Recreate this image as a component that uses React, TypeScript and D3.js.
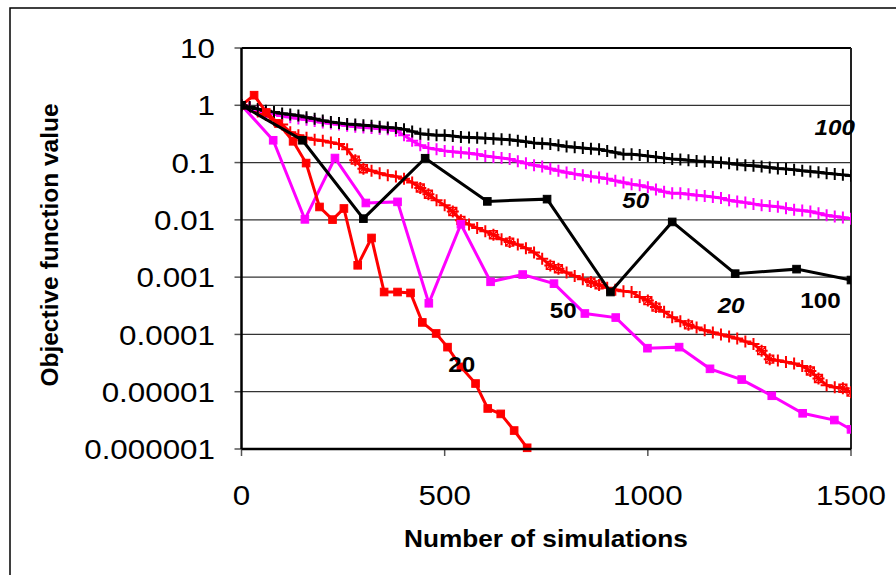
import React from "react";
import * as d3 from "d3";

// ---------- data ----------
const stepSims: number[] = [
  0, 20, 40, 60, 80, 100, 120, 140, 160, 180, 200, 220, 240, 260, 280, 300, 320, 340, 360, 380,
  400, 420, 440, 460, 480, 500, 520, 540, 560, 580, 600, 620, 640, 660, 680, 700, 720, 740, 760, 780,
  800, 820, 840, 860, 880, 900, 920, 940, 960, 980, 1000, 1020, 1040, 1060, 1080, 1100, 1120, 1140, 1160, 1180,
  1200, 1220, 1240, 1260, 1280, 1300, 1320, 1340, 1360, 1380, 1400, 1420, 1440, 1460, 1480, 1500,
];

// population 100, smooth run (black, "+")
const black100Plus: number[] = [
  1.0, 0.93, 0.86, 0.8, 0.76, 0.72, 0.69, 0.66, 0.62, 0.58, 0.54, 0.51, 0.49, 0.47, 0.46, 0.45, 0.44, 0.42, 0.41, 0.4,
  0.38, 0.35, 0.32, 0.31, 0.3, 0.3, 0.29, 0.28, 0.275, 0.27, 0.265, 0.26, 0.255, 0.25, 0.24, 0.23, 0.22, 0.215, 0.21, 0.2,
  0.19, 0.185, 0.18, 0.175, 0.17, 0.16, 0.15, 0.14, 0.14, 0.135, 0.13, 0.125, 0.12, 0.115, 0.113, 0.11, 0.107, 0.104, 0.102, 0.1,
  0.097, 0.093, 0.09, 0.088, 0.085, 0.082, 0.079, 0.077, 0.075, 0.072, 0.07, 0.068, 0.065, 0.063, 0.061, 0.059,
];

// population 50, smooth run (magenta, "+")
const magenta50Plus: number[] = [
  1.0, 0.92, 0.83, 0.76, 0.7, 0.65, 0.62, 0.59, 0.56, 0.53, 0.5, 0.48, 0.46, 0.44, 0.42, 0.41, 0.4, 0.39, 0.38, 0.36,
  0.3, 0.24, 0.2, 0.18, 0.17, 0.16, 0.155, 0.15, 0.145, 0.14, 0.13, 0.125, 0.12, 0.115, 0.105, 0.097, 0.09, 0.085, 0.078, 0.072,
  0.067, 0.063, 0.06, 0.057, 0.055, 0.052, 0.048, 0.045, 0.042, 0.04, 0.037, 0.034, 0.031, 0.029, 0.029, 0.028, 0.027, 0.026, 0.025, 0.024,
  0.022, 0.021, 0.02, 0.019, 0.018, 0.0175, 0.017, 0.016, 0.015, 0.0145, 0.014, 0.013, 0.012, 0.0115, 0.011, 0.0105,
];

// population 20, smooth run (red, "+")
const red20Plus: number[] = [
  1.0, 0.9, 0.78, 0.68, 0.55, 0.46, 0.34, 0.3, 0.27, 0.25, 0.24, 0.225, 0.21, 0.17, 0.11, 0.078, 0.072, 0.065, 0.06, 0.057,
  0.052, 0.045, 0.036, 0.028, 0.022, 0.018, 0.014, 0.0098, 0.0083, 0.0072, 0.0063, 0.0055, 0.0046, 0.0041, 0.0037, 0.0032, 0.0027, 0.0021, 0.0016, 0.0014,
  0.0012, 0.00105, 0.00092, 0.00082, 0.00073, 0.00065, 0.0006, 0.00057, 0.00055, 0.00045, 0.00039, 0.0003, 0.00025, 0.0002, 0.00017, 0.000147, 0.000132, 0.000118, 0.000108, 0.0001,
  0.000092, 0.000085, 0.000075, 0.000068, 0.000052, 0.000037, 0.000035, 0.000033, 0.000031, 0.000028, 0.000023, 0.000017, 0.000013, 0.000012, 0.0000115, 0.0000098,
];
// sims at which the red smooth run shows boxed-x markers
const red20BoxSims: number[] = [280, 300, 440, 460, 520, 540, 620, 660, 760, 780, 860, 880, 1000, 1020, 1100, 1280, 1300, 1400, 1420, 1480, 1500];

// population 100, jumpy run (black squares)
const black100SqX: number[] = [0, 150, 300, 452, 605, 752, 908, 1060, 1215, 1366, 1500];
const black100SqY: number[] = [1, 0.245, 0.0105, 0.119, 0.021, 0.023, 0.00055, 0.0092, 0.00115, 0.00138, 0.00089];

// population 50, jumpy run (magenta squares)
const magenta50SqX: number[] = [0, 78, 156, 230, 306, 384, 461, 540, 613, 692, 769, 845, 921, 999, 1077, 1153, 1231, 1305, 1381, 1459, 1500];
const magenta50SqY: number[] = [
  1, 0.245, 0.0102, 0.12, 0.0197, 0.0206, 0.00035, 0.0084, 0.00083, 0.00111, 0.00077, 0.000232, 0.000197, 0.0000575,
  0.00006, 0.0000251, 0.0000163, 0.0000085, 0.0000042, 0.0000032, 0.0000022,
];

// population 20, jumpy run (red squares)
const red20SqX: number[] = [0, 31, 61, 91, 127, 159, 192, 224, 252, 286, 320, 351, 384, 416, 445, 479, 507, 540, 576, 606, 638, 671, 703];
const red20SqY: number[] = [
  1, 1.5, 0.75, 0.48, 0.235, 0.098, 0.0168, 0.0101, 0.0158, 0.00161, 0.00483, 0.00055, 0.00055, 0.00053, 0.000162,
  0.000104, 0.00006, 0.0000271, 0.0000139, 0.0000051, 0.0000041, 0.0000021, 0.00000105,
];

const yTickValues: number[] = [10, 1, 0.1, 0.01, 0.001, 0.0001, 0.00001, 0.000001];
const yTickLabels: string[] = ["10", "1", "0.1", "0.01", "0.001", "0.0001", "0.00001", "0.000001"];
const xTickValues: number[] = [0, 500, 1000, 1500];

const seriesLabels = [
  { text: "100", italic: true, x: 1460, y: 0.42 },
  { text: "50", italic: true, x: 970, y: 0.022 },
  { text: "20", italic: true, x: 1205, y: 0.00033 },
  { text: "100", italic: false, x: 1425, y: 0.00039 },
  { text: "50", italic: false, x: 792, y: 0.00027 },
  { text: "20", italic: false, x: 542, y: 0.0000305 },
];

const FONT = "'Liberation Sans', Arial, Helvetica, sans-serif";
const BLACK = "#000000";
const MAGENTA = "#ff00ff";
const RED = "#ff0000";

export default function App() {
  const W = 896;
  const H = 575;
  const left = 241.5;
  const right = 851;
  const top = 48;
  const bottom = 449;

  const x = d3.scaleLinear().domain([0, 1500]).range([left, right]);
  const y = d3.scaleLog().domain([0.000001, 10]).range([bottom, top]);

  const line = d3
    .line<[number, number]>()
    .x((d) => x(d[0]))
    .y((d) => y(d[1]));

  const plusSeries = [
    { vals: red20Plus, color: RED },
    { vals: magenta50Plus, color: MAGENTA },
    { vals: black100Plus, color: BLACK },
  ];
  const sqSeries = [
    { xs: magenta50SqX, ys: magenta50SqY, color: MAGENTA },
    { xs: red20SqX, ys: red20SqY, color: RED },
    { xs: black100SqX, ys: black100SqY, color: BLACK },
  ];

  const pm = 6; // plus half-size
  const sq = 3.8; // square half-size
  const SX = 1.12; // horizontal stretch of the text

  return (
    <svg width={W} height={H} style={{ display: "block", position: "absolute", left: 0, top: 0 }}>
      <defs>
        <clipPath id="plotclip">
          <rect x={left} y={top - 12} width={right - left} height={bottom - top + 24} />
        </clipPath>
      </defs>
      <rect x={0} y={0} width={W} height={H} fill="#fff" />
      {/* outer frame */}
      <rect x={10} y={8} width={W + 20} height={H + 20} fill="none" stroke="#000" strokeWidth={1.5} />

      {/* gridlines */}
      {yTickValues
        .filter((v) => v < 10 && v > 0.000001)
        .map((v) => (
          <line key={"g" + v} x1={left} x2={right} y1={y(v)} y2={y(v)} stroke="#333" strokeWidth={1.3} />
        ))}
      {/* plot border top & right */}
      <line x1={left} x2={right} y1={top} y2={top} stroke="#000" strokeWidth={2} />
      <line x1={right} x2={right} y1={top} y2={bottom} stroke="#222" strokeWidth={2} />

      {/* y ticks and labels */}
      {yTickValues.map((v, i) => (
        <g key={"yt" + v}>
          <line x1={left - 7} x2={left} y1={y(v)} y2={y(v)} stroke="#555" strokeWidth={1.5} />
          <text
            transform={`translate(215,${y(v)}) scale(${SX},1)`}
            dy="0.36em"
            textAnchor="end"
            fontFamily={FONT}
            fontSize={28}
            fill="#000"
          >
            {yTickLabels[i]}
          </text>
        </g>
      ))}
      {/* x ticks and labels */}
      {xTickValues.map((v) => (
        <g key={"xt" + v}>
          <line x1={x(v)} x2={x(v)} y1={bottom} y2={bottom + 7} stroke="#555" strokeWidth={1.5} />
          <text
            transform={`translate(${x(v)},505) scale(${SX},1)`}
            textAnchor="middle"
            fontFamily={FONT}
            fontSize={28}
            fill="#000"
          >
            {String(v)}
          </text>
        </g>
      ))}

      {/* series */}
      <g clipPath="url(#plotclip)">
        {plusSeries.map((s, si) => {
          const pts: [number, number][] = stepSims.map((t, i) => [t, s.vals[i]]);
          return (
            <g key={"ps" + si}>
              <path d={line(pts) || ""} fill="none" stroke={s.color} strokeWidth={3} strokeLinejoin="round" />
              {pts.map((p, i) => (
                <path
                  key={i}
                  d={`M${x(p[0]) - pm},${y(p[1])}H${x(p[0]) + pm}M${x(p[0])},${y(p[1]) - pm}V${y(p[1]) + pm}`}
                  stroke={s.color}
                  strokeWidth={2}
                />
              ))}
              {s.color === RED &&
                red20BoxSims.map((t) => {
                  const idx = stepSims.indexOf(t);
                  const cx = x(t);
                  const cy = y(red20Plus[idx]);
                  const b = 4;
                  return (
                    <path
                      key={"b" + t}
                      d={`M${cx - b},${cy - b}h${2 * b}v${2 * b}h${-2 * b}ZM${cx - b},${cy - b}L${cx + b},${cy + b}M${cx + b},${cy - b}L${cx - b},${cy + b}`}
                      fill="none"
                      stroke={RED}
                      strokeWidth={1.3}
                    />
                  );
                })}
            </g>
          );
        })}
        {sqSeries.map((s, si) => {
          const pts: [number, number][] = s.xs.map((t, i) => [t, s.ys[i]]);
          return (
            <g key={"ss" + si}>
              <path d={line(pts) || ""} fill="none" stroke={s.color} strokeWidth={3} strokeLinejoin="miter" />
              {pts.map((p, i) => (
                <rect
                  key={i}
                  x={x(p[0]) - sq}
                  y={y(p[1]) - sq}
                  width={2 * sq}
                  height={2 * sq}
                  fill={s.color}
                  stroke={s.color}
                  strokeWidth={1}
                />
              ))}
            </g>
          );
        })}
      </g>

      {/* axes */}
      <line x1={left} x2={left} y1={top} y2={bottom} stroke="#000" strokeWidth={2.5} />
      <line x1={left} x2={right} y1={bottom} y2={bottom} stroke="#000" strokeWidth={2.5} />

      {/* series labels */}
      {seriesLabels.map((l, i) => (
        <text
          key={"sl" + i}
          transform={`translate(${x(l.x)},${y(l.y)}) scale(1.1,1)`}
          dy="0.36em"
          textAnchor="middle"
          fontFamily={FONT}
          fontWeight="bold"
          fontStyle={l.italic ? "italic" : "normal"}
          fontSize={22}
          fill="#000"
        >
          {l.text}
        </text>
      ))}

      {/* axis titles */}
      <text
        transform="translate(546,547) scale(1.07,1)"
        textAnchor="middle"
        fontFamily={FONT}
        fontWeight="bold"
        fontSize={24.5}
        fill="#000"
      >
        Number of simulations
      </text>
      <text
        transform="translate(58,245) rotate(-90)"
        textAnchor="middle"
        fontFamily={FONT}
        fontWeight="bold"
        fontSize={24.5}
        fill="#000"
      >
        Objective function value
      </text>
    </svg>
  );
}
